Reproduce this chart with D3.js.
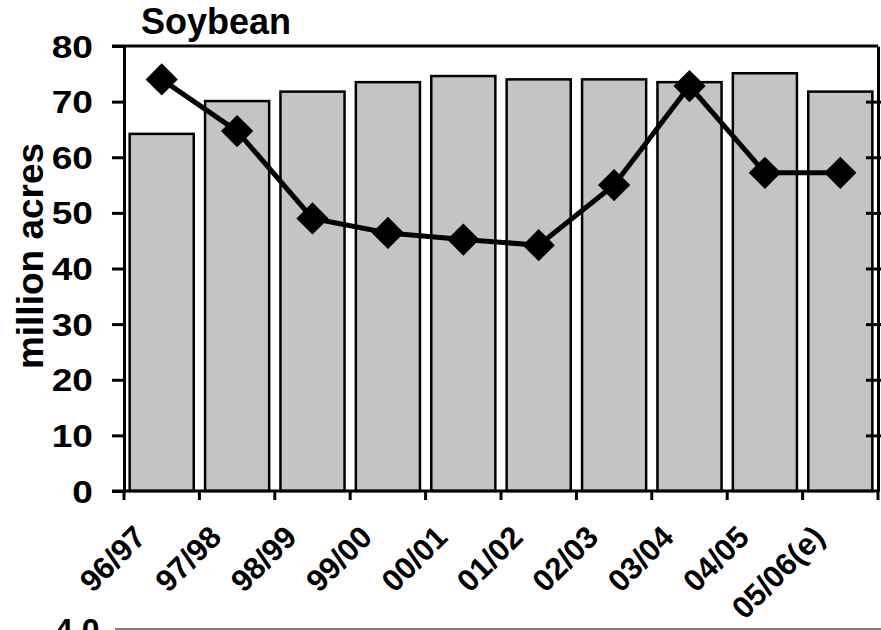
<!DOCTYPE html>
<html>
<head>
<meta charset="utf-8">
<script src="https://cdn.jsdelivr.net/npm/d3@7"></script>
<style>
  body { margin: 0; background: #fff; }
  svg { display: block; font-family: "Liberation Sans", Arial, sans-serif; font-weight: bold; }
</style>
</head>
<body>
<script>
// Data
const seasons = ["96/97", "97/98", "98/99", "99/00", "00/01", "01/02", "02/03", "03/04", "04/05", "05/06(e)"];
const acres = [64.2, 70.1, 71.8, 73.5, 74.6, 74.0, 74.0, 73.5, 75.1, 71.8];
const lineValues = [74.0, 64.7, 49.0, 46.4, 45.2, 44.2, 55.0, 72.8, 57.2, 57.2];
const yTicks = [0, 10, 20, 30, 40, 50, 60, 70, 80];

const width = 881;
const height = 630;
const margin = { top: 46, right: 3, bottom: 139, left: 124 };

const svg = d3.select("body")
    .append("svg")
    .attr("width", width)
    .attr("height", height);

const innerWidth = width - margin.left - margin.right;
const innerHeight = height - margin.top - margin.bottom;

const g = svg.append("g")
    .attr("transform", `translate(${margin.left},${margin.top})`);

const x = d3.scaleBand()
    .domain(seasons)
    .range([0, innerWidth])
    .paddingInner(0.15)
    .paddingOuter(0.075);

const y = d3.scaleLinear()
    .domain([0, 80])
    .range([innerHeight, 0]);

// Title
svg.append("text")
    .attr("x", 141)
    .attr("y", 34)
    .attr("font-size", 36)
    .text("Soybean");

// Bars
g.selectAll("rect.bar")
    .data(seasons)
    .enter()
    .append("rect")
    .attr("class", "bar")
    .attr("x", d => x(d))
    .attr("y", (d, i) => y(acres[i]))
    .attr("width", x.bandwidth())
    .attr("height", (d, i) => innerHeight - y(acres[i]))
    .attr("fill", "#c4c4c4")
    .attr("stroke", "#000")
    .attr("stroke-width", 2.5);

// Top frame line
g.append("line")
    .attr("x1", -12).attr("x2", innerWidth)
    .attr("y1", 0).attr("y2", 0)
    .attr("stroke", "#000").attr("stroke-width", 3);

// Left axis (labels drawn separately so they can be widened)
const yAxis = g.append("g")
    .call(d3.axisLeft(y).tickValues(yTicks).tickSize(12).tickFormat(""));
yAxis.select(".domain").attr("stroke-width", 3);
yAxis.selectAll(".tick line").attr("stroke-width", 3);
yAxis.selectAll(".tick text").remove();

g.selectAll("text.ylab")
    .data(yTicks)
    .enter()
    .append("text")
    .attr("class", "ylab")
    .attr("text-anchor", "end")
    .attr("font-size", 32)
    .attr("transform", d => `translate(-31,${y(d) + 11.5}) scale(1.16,1)`)
    .text(d => d);

// Right axis (ticks only)
const yRight = g.append("g")
    .attr("transform", `translate(${innerWidth},0)`)
    .call(d3.axisRight(y).tickValues(yTicks.slice(1, 8)).tickSizeInner(-12).tickSizeOuter(0).tickFormat(""));
yRight.select(".domain").attr("stroke-width", 3);
yRight.selectAll(".tick line").attr("stroke-width", 3).attr("x2", 3).attr("x1", -12);
yRight.selectAll(".tick text").remove();

// Bottom axis with ticks at category boundaries
const bottom = g.append("g")
    .attr("transform", `translate(0,${innerHeight})`);
bottom.append("line")
    .attr("x1", -12).attr("x2", innerWidth)
    .attr("stroke", "#000").attr("stroke-width", 3);
const step = x.step();
bottom.selectAll("line.tick")
    .data(d3.range(seasons.length + 1))
    .enter()
    .append("line")
    .attr("class", "tick")
    .attr("x1", i => x(seasons[0]) - x.paddingOuter() * step + i * step)
    .attr("x2", i => x(seasons[0]) - x.paddingOuter() * step + i * step)
    .attr("y1", 0).attr("y2", 9)
    .attr("stroke", "#000").attr("stroke-width", 3);

bottom.selectAll("text.label")
    .data(seasons)
    .enter()
    .append("text")
    .attr("class", "label")
    .attr("font-size", 31)
    .attr("text-anchor", "end")
    .attr("transform", d => `translate(${x(d) + x.bandwidth() / 2 - 14},48) rotate(-45)`)
    .text(d => d);

// Y axis title
svg.append("text")
    .attr("transform", "translate(43,256) rotate(-90)")
    .attr("text-anchor", "middle")
    .attr("font-size", 37)
    .text("million acres");

// Line series
const line = d3.line()
    .x((d, i) => x(seasons[i]) + x.bandwidth() / 2)
    .y(d => y(d));

g.append("path")
    .datum(lineValues)
    .attr("fill", "none")
    .attr("stroke", "#000")
    .attr("stroke-width", 5)
    .attr("d", line);

g.selectAll("path.marker")
    .data(lineValues)
    .enter()
    .append("path")
    .attr("class", "marker")
    .attr("d", d3.symbol(d3.symbolSquare, 520))
    .attr("transform", (d, i) => `translate(${x(seasons[i]) + x.bandwidth() / 2},${y(d)}) rotate(45)`)
    .attr("fill", "#000");

// Top of the next chart, cut off at the bottom edge
svg.append("text")
    .attr("x", 55)
    .attr("y", 641)
    .attr("font-size", 32)
    .text("4.0");
svg.append("line")
    .attr("x1", 115).attr("x2", width)
    .attr("y1", 629).attr("y2", 629)
    .attr("stroke", "#808080").attr("stroke-width", 2);
</script>
</body>
</html>
